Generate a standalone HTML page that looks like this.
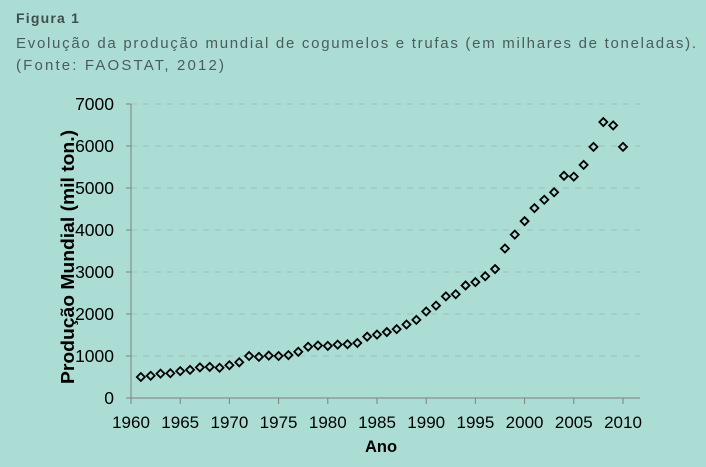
<!DOCTYPE html>
<html><head><meta charset="utf-8"><style>
body{margin:0;background:#acddd5;width:706px;height:462px;overflow:hidden;font-family:"Liberation Sans",sans-serif}
</style></head><body>
<svg width="706" height="462" xmlns="http://www.w3.org/2000/svg">
<rect width="706" height="462" fill="#acddd5"/>
<text x="16" y="23" font-size="14" font-weight="bold" fill="#3e4f4e" letter-spacing="1.2">Figura 1</text>
<text x="16" y="48" font-size="15" fill="#4a5c5b" textLength="680" lengthAdjust="spacing">Evolução da produção mundial de cogumelos e trufas (em milhares de toneladas).</text>
<text x="16" y="70" font-size="15" fill="#4a5c5b" textLength="208" lengthAdjust="spacing">(Fonte: FAOSTAT, 2012)</text>
<g id="grid"></g>
<g id="axes"></g>
<g id="pts"></g>
<text x="381" y="452" font-size="16.5" font-weight="bold" text-anchor="middle" fill="#000">Ano</text>
<text transform="translate(74,257) rotate(-90)" font-size="18" font-weight="bold" text-anchor="middle" fill="#000" textLength="254" lengthAdjust="spacingAndGlyphs">Produção Mundial (mil ton.)</text>
</svg>
<script>
const years=[1961,1962,1963,1964,1965,1966,1967,1968,1969,1970,1971,1972,1973,1974,1975,1976,1977,1978,1979,1980,1981,1982,1983,1984,1985,1986,1987,1988,1989,1990,1991,1992,1993,1994,1995,1996,1997,1998,1999,2000,2001,2002,2003,2004,2005,2006,2007,2008,2009,2010];
const production=[500,530,580,590,640,670,730,740,720,780,850,1000,980,1010,1000,1020,1100,1220,1250,1240,1270,1280,1310,1460,1510,1570,1640,1750,1860,2060,2200,2420,2470,2680,2760,2900,3070,3560,3890,4210,4520,4720,4900,5290,5270,5550,5980,6570,6490,5980];
const xTicks=[1960,1965,1970,1975,1980,1985,1990,1995,2000,2005,2010];
const yTicks=[0,1000,2000,3000,4000,5000,6000,7000];
const NS="http://www.w3.org/2000/svg";
const x=v=>131+(v-1960)*(623-131)/50;
const y=v=>398-v*(398-104)/7000;
function mk(t,a,p){const e=document.createElementNS(NS,t);for(const k in a)e.setAttribute(k,a[k]);p.appendChild(e);return e;}
const grid=document.getElementById('grid'),axes=document.getElementById('axes'),pts=document.getElementById('pts');
yTicks.forEach(t=>{
 if(t>0){const g=mk('line',{x1:131,x2:640,y1:y(t),y2:y(t),stroke:'#9cc4bd','stroke-dasharray':'6,6'},grid);
 }
 const tk=mk('line',{x1:126,x2:131,y1:y(t),y2:y(t),stroke:'#808080'},axes);
 
 const l=mk('text',{x:114,y:y(t)+6,'font-size':17.5,'text-anchor':'end',fill:'#000'},axes);l.textContent=t;
 
});
xTicks.forEach(t=>{
 const tk=mk('line',{x1:x(t),x2:x(t),y1:398,y2:404,stroke:'#808080'},axes);
 
 const l=mk('text',{x:x(t),y:428,'font-size':17,'text-anchor':'middle',fill:'#000'},axes);l.textContent=t;
 
});
const ya=mk('line',{x1:131,x2:131,y1:104,y2:398,stroke:'#808080'},axes);

const xa=mk('line',{x1:131,x2:640,y1:398,y2:398,stroke:'#808080'},axes);

years.forEach((yr,i)=>{
 const cx=x(yr),cy=y(production[i]),r=4;
 const p=mk('polygon',{points:`${cx},${cy-r} ${cx+r},${cy} ${cx},${cy+r} ${cx-r},${cy}`,fill:'none',stroke:'#000','stroke-width':1.8},pts);
 
});
</script>
</body></html>
